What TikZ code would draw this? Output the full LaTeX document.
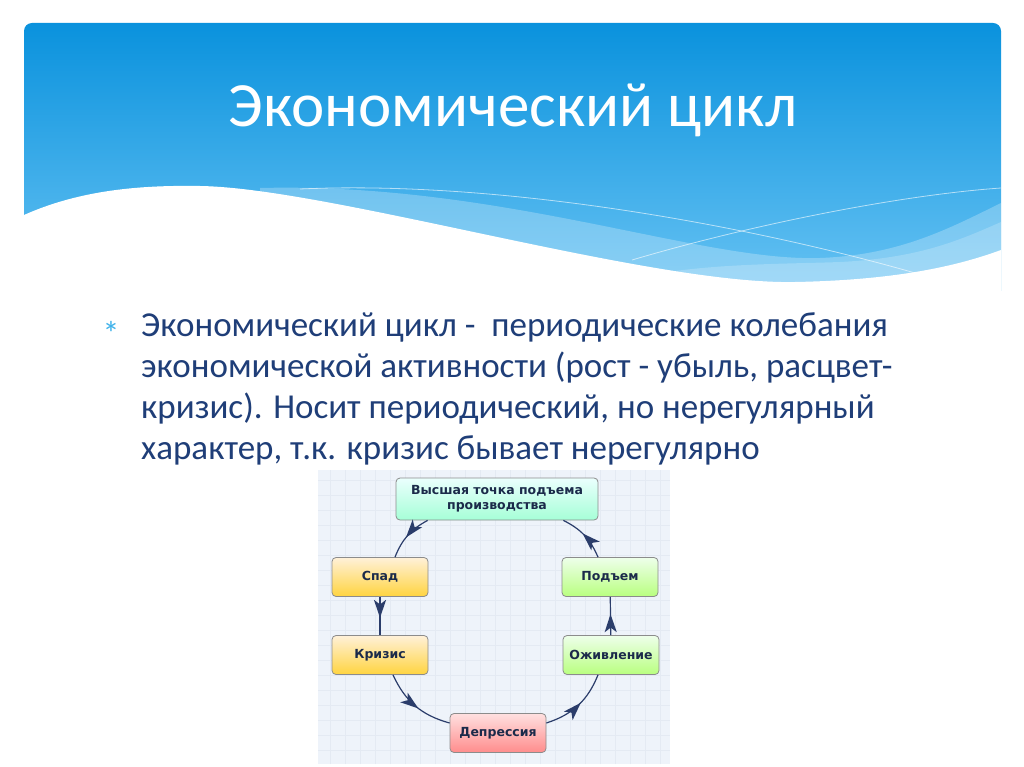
\documentclass[tikz,border=0pt]{standalone}
\usepackage{fontspec}
\setmainfont{Carlito}
\newfontfamily\boxfont{DejaVu Sans}
\usetikzlibrary{arrows.meta,decorations.markings}
\definecolor{hdrtop}{HTML}{0A92DD}
\definecolor{hdrbot}{HTML}{66C2F3}
\definecolor{bodytext}{HTML}{1F3E78}
\definecolor{bulletcol}{HTML}{3FB2EA}
\definecolor{boxtext}{HTML}{1B2A4A}
\definecolor{linkcol}{HTML}{2B3D6B}
\definecolor{picbg}{HTML}{EEF3FA}
\definecolor{gridcol}{HTML}{E4EAF3}
\tikzset{
  stage/.style={draw=black!45, line width=0.8pt, rounded corners=4pt, minimum width=96pt,
    minimum height=39pt, align=center, font=\boxfont\bfseries\fontsize{12.5}{15}\selectfont,
    text=boxtext},
  topstage/.style={stage, minimum width=202pt, minimum height=42pt, top color=green!8!cyan!8, bottom color=green!45!cyan!35},
  fallstage/.style={stage, top color=yellow!25!orange!15, bottom color=yellow!55!orange!75},
  risestage/.style={stage, top color=yellow!15!green!8, bottom color=yellow!45!green!50},
  lowstage/.style={stage, top color=red!12, bottom color=red!45},
  midarrow/.style={draw=linkcol, line width=1.2pt, postaction={decorate},
    decoration={markings, mark=at position 0.55 with {\arrow[scale=1.5]{Stealth[length=12pt,width=8pt,inset=3pt]}}}}
}
\begin{document}
\begin{tikzpicture}[x=1pt,y=1pt]
  \useasboundingbox (0,0) rectangle (1024,-767);
  \fill[white] (0,0) rectangle (1024,-767);
  % header
  \begin{scope}
    \clip[rounded corners=8pt] (24,-300) -- (24,-23) -- (1001,-23) -- (1001,-300) -- cycle;
    \shade[top color=hdrtop, bottom color=hdrbot] (24,-23) rectangle (1001,-290);
    \fill[white, opacity=0.25] (260,-188) .. controls (500,-182) and (700,-262) .. (820,-258)
      .. controls (900,-255) and (950,-228) .. (1001,-203) -- (1001,-300) -- (260,-300) -- cycle;
    \fill[white, opacity=0.2] (560,-300) .. controls (650,-262) and (760,-265) .. (840,-262)
      .. controls (920,-258) and (960,-240) .. (1001,-222) -- (1001,-300) -- cycle;
    \draw[white, opacity=0.6, line width=0.8pt] (300,-189) .. controls (500,-180) and (750,-225) .. (922,-275);
    \draw[white, opacity=0.6, line width=0.8pt] (632,-260) .. controls (750,-225) and (900,-195) .. (1001,-188);
    \fill[white] (24,-215) .. controls (80,-190) and (140,-185) .. (200,-186)
      .. controls (330,-188) and (650,-285) .. (795,-282)
      .. controls (900,-280) and (960,-265) .. (1001,-250) -- (1001,-300) -- (24,-300) -- cycle;
  \end{scope}
  \node[anchor=base, text=white, font=\fontsize{63}{70}\selectfont] (title) at (513,-127) {Экономический цикл};
  % text
  \node[anchor=center, text=bulletcol, font=\fontsize{34}{34}\selectfont] (bullet) at (111,-333) {*};
  \node[anchor=base west, inner sep=0pt, align=left, text=bodytext, font=\fontsize{35}{40.8}\selectfont] (body) at (141,-459)
    {Экономический цикл -\ \ периодические колебания\\экономической активности (рост - убыль, расцвет-\\кризис). Носит периодический, но нерегулярный\\характер, т.к. кризис бывает нерегулярно};
  % scheme
  \fill[picbg] (318,-470) rectangle (670,-764);
  \draw[gridcol, line width=0.5pt, step=15pt] (318,-470) grid (670,-764);
  \node[topstage] (peak) at (497,-499) {Высшая точка подъема\\производства};
  \node[fallstage] (fall) at (380,-577) {Спад};
  \node[fallstage] (crisis) at (380,-655) {Кризис};
  \node[lowstage] (depr) at (498,-733) {Депрессия};
  \node[risestage] (revival) at (611,-655) {Оживление};
  \node[risestage] (rise) at (610,-577) {Подъем};
  \draw[midarrow] ([xshift=32pt]peak.south west) to[bend right=20] ([xshift=15pt]fall.north);
  \draw[midarrow] (fall) -- (crisis);
  \draw[midarrow] ([xshift=13pt]crisis.south) to[bend right=25] ([yshift=10pt]depr.west);
  \draw[midarrow] ([yshift=10pt]depr.east) to[bend right=25] ([xshift=-13pt]revival.south);
  \draw[midarrow] (revival) -- (rise);
  \draw[midarrow] ([xshift=-12pt]rise.north) to[bend right=20] ([xshift=-35pt]peak.south east);
\end{tikzpicture}
\end{document}
